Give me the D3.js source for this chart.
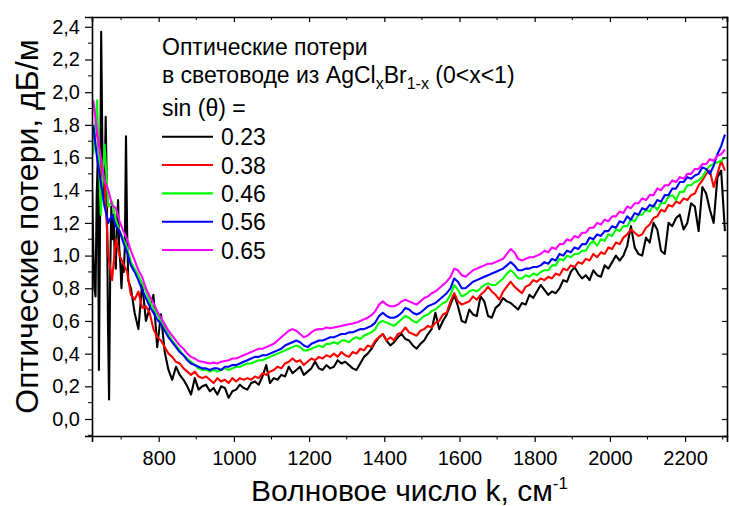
<!DOCTYPE html>
<html>
<head>
<meta charset="utf-8">
<script src="https://cdn.jsdelivr.net/npm/d3@7"></script>
<style>
  body { margin: 0; background: #fff; }
  svg { display: block; }
  text { font-family: "Liberation Sans", Arial, sans-serif; fill: #000; }
</style>
</head>
<body>
<svg id="chart" width="729" height="506"></svg>
<script>
// Wavenumber grid (cm^-1), 10 cm^-1 step
const wn = d3.range(626, 2310, 10);

// Optical loss, dB/m, for each sin(theta)
const loss065 = [
  1.95, 1.76, 1.60, 1.46, 1.40, 1.31, 1.29, 1.21, 1.15, 1.10,
  1.03, 0.97, 0.91, 0.87, 0.80, 0.75, 0.71, 0.66, 0.62, 0.58,
  0.54, 0.51, 0.48, 0.45, 0.43, 0.40, 0.38, 0.37, 0.355, 0.35,
  0.345, 0.34, 0.345, 0.34, 0.35, 0.355, 0.36, 0.37, 0.37, 0.38,
  0.39, 0.40, 0.41, 0.42, 0.43, 0.43, 0.44, 0.45, 0.46, 0.48,
  0.50, 0.52, 0.54, 0.55, 0.54, 0.52, 0.50, 0.51, 0.53, 0.545,
  0.55, 0.55, 0.56, 0.555, 0.56, 0.565, 0.57, 0.575, 0.58, 0.585,
  0.59, 0.60, 0.61, 0.62, 0.635, 0.66, 0.70, 0.72, 0.70, 0.69,
  0.69, 0.70, 0.72, 0.73, 0.72, 0.71, 0.70, 0.72, 0.74, 0.75,
  0.77, 0.78, 0.80, 0.82, 0.84, 0.87, 0.92, 0.91, 0.88, 0.87,
  0.89, 0.91, 0.92, 0.93, 0.94, 0.95, 0.95, 0.96, 0.97, 0.98,
  1.01, 1.04, 1.02, 0.98, 0.97, 0.98, 0.99, 0.99, 1.00, 1.01,
  1.03, 1.02, 1.05, 1.04, 1.07, 1.07, 1.10, 1.09, 1.12, 1.11,
  1.14, 1.14, 1.17, 1.17, 1.20, 1.19, 1.22, 1.21, 1.24, 1.24,
  1.27, 1.26, 1.30, 1.29, 1.32, 1.32, 1.35, 1.34, 1.37, 1.37,
  1.41, 1.40, 1.43, 1.43, 1.46, 1.45, 1.48, 1.47, 1.50, 1.50,
  1.53, 1.53, 1.56, 1.56, 1.59, 1.58, 1.61, 1.62, 1.65
];
const loss056 = [
  1.80, 1.60, 1.45, 1.30, 1.20, 1.25, 1.18, 1.15, 1.08, 1.02,
  0.94, 0.90, 0.85, 0.79, 0.74, 0.69, 0.65, 0.61, 0.58, 0.54,
  0.50, 0.47, 0.44, 0.41, 0.39, 0.36, 0.34, 0.33, 0.32, 0.31,
  0.31, 0.30, 0.31, 0.31, 0.30, 0.32, 0.32, 0.33, 0.33, 0.34,
  0.35, 0.36, 0.37, 0.38, 0.38, 0.39, 0.39, 0.40, 0.41, 0.42,
  0.43, 0.45, 0.46, 0.47, 0.48, 0.47, 0.45, 0.44, 0.46, 0.47,
  0.48, 0.48, 0.49, 0.50, 0.50, 0.51, 0.52, 0.52, 0.53, 0.53,
  0.54, 0.55, 0.55, 0.56, 0.57, 0.59, 0.63, 0.65, 0.63, 0.62,
  0.62, 0.63, 0.65, 0.68, 0.67, 0.65, 0.64, 0.65, 0.67, 0.69,
  0.70, 0.71, 0.73, 0.75, 0.77, 0.80, 0.86, 0.84, 0.80, 0.80,
  0.82, 0.84, 0.85, 0.86, 0.87, 0.88, 0.89, 0.90, 0.91, 0.92,
  0.94, 0.96, 0.94, 0.91, 0.91, 0.92, 0.92, 0.93, 0.93, 0.94,
  0.96, 0.95, 0.98, 0.97, 1.01, 1.00, 1.03, 1.02, 1.05, 1.04,
  1.07, 1.07, 1.11, 1.10, 1.13, 1.12, 1.15, 1.15, 1.18, 1.17,
  1.21, 1.20, 1.24, 1.22, 1.26, 1.25, 1.29, 1.28, 1.31, 1.30,
  1.34, 1.33, 1.37, 1.37, 1.41, 1.41, 1.45, 1.45, 1.48, 1.47,
  1.49, 1.50, 1.54, 1.53, 1.50, 1.55, 1.62, 1.67, 1.74
];
const loss046 = [
  1.62, 1.95, 1.25, 1.68, 1.30, 1.33, 1.22, 1.15, 1.10, 1.05,
  0.96, 0.92, 0.88, 0.83, 0.78, 0.72, 0.68, 0.64, 0.60, 0.56,
  0.52, 0.48, 0.45, 0.42, 0.39, 0.37, 0.35, 0.33, 0.31, 0.30,
  0.30, 0.29, 0.30, 0.29, 0.30, 0.31, 0.30, 0.31, 0.32, 0.32,
  0.33, 0.34, 0.34, 0.35, 0.36, 0.36, 0.37, 0.38, 0.39, 0.40,
  0.41, 0.42, 0.43, 0.44, 0.45, 0.44, 0.42, 0.42, 0.43, 0.44,
  0.45, 0.44, 0.46, 0.46, 0.47, 0.46, 0.48, 0.48, 0.47, 0.49,
  0.50, 0.49, 0.51, 0.52, 0.53, 0.55, 0.59, 0.60, 0.59, 0.58,
  0.57, 0.59, 0.61, 0.63, 0.62, 0.60, 0.59, 0.61, 0.63, 0.64,
  0.66, 0.67, 0.69, 0.71, 0.72, 0.76, 0.82, 0.79, 0.75, 0.76,
  0.78, 0.79, 0.78, 0.80, 0.82, 0.83, 0.82, 0.82, 0.84, 0.86,
  0.89, 0.91, 0.89, 0.86, 0.86, 0.88, 0.87, 0.89, 0.88, 0.90,
  0.91, 0.91, 0.94, 0.94, 0.98, 0.97, 1.00, 0.99, 1.01, 1.01,
  1.03, 1.03, 1.07, 1.09, 1.06, 1.10, 1.09, 1.13, 1.12, 1.16,
  1.15, 1.18, 1.18, 1.22, 1.21, 1.25, 1.25, 1.28, 1.27, 1.31,
  1.28, 1.32, 1.32, 1.36, 1.37, 1.34, 1.39, 1.39, 1.43, 1.43,
  1.45, 1.46, 1.48, 1.52, 1.55, 1.56, 1.57, 1.58, 1.60
];
const loss038 = [
  1.72, 1.75, 1.50, 1.45, 1.00, 0.85, 1.10, 1.00, 0.95, 0.90,
  0.76, 0.73, 0.78, 0.68, 0.69, 0.65, 0.55, 0.50, 0.48, 0.44,
  0.40, 0.38, 0.35, 0.34, 0.31, 0.29, 0.27, 0.29, 0.26, 0.25,
  0.26, 0.24, 0.22, 0.25, 0.23, 0.24, 0.22, 0.25, 0.23, 0.25,
  0.24, 0.25, 0.24, 0.26, 0.25, 0.28, 0.27, 0.29, 0.30, 0.32,
  0.31, 0.34, 0.35, 0.37, 0.35, 0.36, 0.33, 0.35, 0.37, 0.36,
  0.38, 0.37, 0.39, 0.38, 0.40, 0.38, 0.41, 0.39, 0.38, 0.41,
  0.40, 0.43, 0.42, 0.45, 0.44, 0.48, 0.50, 0.52, 0.48, 0.50,
  0.48, 0.52, 0.53, 0.56, 0.53, 0.52, 0.51, 0.54, 0.55, 0.57,
  0.56, 0.59, 0.60, 0.64, 0.65, 0.72, 0.77, 0.72, 0.70, 0.71,
  0.72, 0.75, 0.73, 0.76, 0.78, 0.81, 0.78, 0.76, 0.73, 0.78,
  0.81, 0.84, 0.81, 0.79, 0.77, 0.81, 0.82, 0.85, 0.84, 0.86,
  0.85, 0.87, 0.86, 0.89, 0.88, 0.92, 0.91, 0.94, 0.93, 0.96,
  0.95, 0.98, 0.97, 1.01, 0.99, 1.02, 1.01, 1.05, 1.04, 1.08,
  1.07, 1.11, 1.13, 1.16, 1.14, 1.12, 1.13, 1.17, 1.19, 1.23,
  1.24, 1.28, 1.27, 1.31, 1.30, 1.33, 1.32, 1.35, 1.34, 1.37,
  1.38, 1.43, 1.46, 1.50, 1.52, 1.42, 1.50, 1.58, 1.52
];
// sin(theta) = 0.23: finer 3 cm^-1 sampling below 720 cm^-1, then the 10 cm^-1 grid
const headWn = d3.range(623, 722, 3);
const loss023Head = [
  1.40, 1.05, 0.80, 0.75, 1.35, 1.60, 0.30, 1.20, 2.37, 1.70,
  1.35, 1.40, 1.85, 1.40, 0.60, 0.12, 0.90, 1.30, 1.10, 1.25,
  1.00, 0.92, 1.20, 1.34, 1.05, 0.95, 0.80, 0.95, 0.90, 1.05,
  1.73, 1.15, 0.85
];
const loss023 = [
  0.80, 0.65, 0.55, 0.83, 0.60, 0.68, 0.76, 0.44, 0.64, 0.41,
  0.30, 0.24, 0.32, 0.27, 0.24, 0.20, 0.15, 0.25, 0.18, 0.20,
  0.21, 0.17, 0.19, 0.15, 0.20, 0.19, 0.13, 0.17, 0.18, 0.21,
  0.19, 0.18, 0.22, 0.23, 0.21, 0.26, 0.33, 0.22, 0.25, 0.24,
  0.27, 0.26, 0.32, 0.28, 0.30, 0.32, 0.27, 0.29, 0.31, 0.35,
  0.31, 0.30, 0.33, 0.31, 0.32, 0.36, 0.34, 0.35, 0.33, 0.31,
  0.30, 0.34, 0.38, 0.40, 0.43, 0.47, 0.50, 0.52, 0.48, 0.45,
  0.47, 0.50, 0.52, 0.49, 0.48, 0.45, 0.43, 0.46, 0.48, 0.52,
  0.55, 0.65, 0.55, 0.60, 0.64, 0.70, 0.76, 0.69, 0.60, 0.59,
  0.67, 0.64, 0.63, 0.75, 0.72, 0.63, 0.62, 0.68, 0.70, 0.74,
  0.72, 0.71, 0.69, 0.67, 0.71, 0.70, 0.76, 0.74, 0.78, 0.82,
  0.79, 0.76, 0.78, 0.77, 0.80, 0.85, 0.84, 0.90, 0.93, 0.89,
  0.86, 0.88, 0.85, 0.91, 0.88, 0.87, 0.94, 0.92, 0.96, 1.00,
  0.97, 1.00, 1.06, 1.18, 1.05, 1.01, 1.00, 1.11, 1.08, 1.20,
  1.16, 1.03, 1.01, 1.20, 1.18, 1.23, 1.25, 1.16, 1.20, 1.32,
  1.30, 1.15, 1.42, 1.38, 1.28, 1.20, 1.48, 1.52, 1.15
];

const seriesLabels = ["0.23", "0.38", "0.46", "0.56", "0.65"];
const seriesColors = ["#000000", "#ff0000", "#00ff00", "#0000ff", "#ff00ff"];

const xMajor = [800, 1000, 1200, 1400, 1600, 1800, 2000, 2200];
const xMinor = [700, 900, 1100, 1300, 1500, 1700, 1900, 2100, 2300];
const yMajor = [0, 0.2, 0.4, 0.6, 0.8, 1.0, 1.2, 1.4, 1.6, 1.8, 2.0, 2.2, 2.4];
const yMinor = [-0.1, 0.1, 0.3, 0.5, 0.7, 0.9, 1.1, 1.3, 1.5, 1.7, 1.9, 2.1, 2.3];

const svg = d3.select("#chart");
const L = 92, R = 727, T = 17, B = 436;

const x = d3.scaleLinear().domain([622.6, 2311.5]).range([L, R]);
const y = d3.scaleLinear().domain([-0.104, 2.46]).range([B, T]);

const series = [
  { label: seriesLabels[0], color: seriesColors[0],
    pts: headWn.map((w, i) => [w, loss023Head[i]]).concat(wn.slice(10).map((w, i) => [w, loss023[i]])) },
  { label: seriesLabels[1], color: seriesColors[1], pts: wn.map((w, i) => [w, loss038[i]]) },
  { label: seriesLabels[2], color: seriesColors[2], pts: wn.map((w, i) => [w, loss046[i]]) },
  { label: seriesLabels[3], color: seriesColors[3], pts: wn.map((w, i) => [w, loss056[i]]) },
  { label: seriesLabels[4], color: seriesColors[4], pts: wn.map((w, i) => [w, loss065[i]]) }
];

svg.append("clipPath").attr("id", "plotClip")
  .append("rect").attr("x", L).attr("y", T).attr("width", R - L).attr("height", B - T);

const line = d3.line().x(d => x(d[0])).y(d => y(d[1]));
svg.append("g").attr("clip-path", "url(#plotClip)")
  .selectAll("path").data(series).join("path")
  .attr("d", d => line(d.pts))
  .attr("fill", "none")
  .attr("stroke", d => d.color)
  .attr("stroke-width", 2.1)
  .attr("stroke-linejoin", "round");

const fmt = d => d3.format(".1f")(d).replace(".", ",");
const tickFont = 20;

// bottom axis: labelled majors, short minors, all outward
const gx = svg.append("g").attr("transform", `translate(0,${B})`)
  .call(d3.axisBottom(x).tickValues(xMajor).tickSize(6).tickPadding(9).tickFormat(d3.format("d")));
gx.append("g").selectAll("line").data(xMinor).join("line")
  .attr("x1", d => x(d)).attr("x2", d => x(d)).attr("y1", 0).attr("y2", 3.5).attr("stroke", "#000");
// left axis
const gy = svg.append("g").attr("transform", `translate(${L},0)`)
  .call(d3.axisLeft(y).tickValues(yMajor).tickSize(7).tickPadding(5).tickFormat(fmt));
gy.append("g").selectAll("line").data(yMinor).join("line")
  .attr("y1", d => y(d)).attr("y2", d => y(d)).attr("x1", 0).attr("x2", -4).attr("stroke", "#000");
// top and right axes, inward ticks without labels
const gTop = svg.append("g").attr("transform", `translate(0,${T})`)
  .call(d3.axisBottom(x).tickValues(xMajor).tickSize(5).tickFormat(""));
gTop.append("g").selectAll("line").data(xMinor).join("line")
  .attr("x1", d => x(d)).attr("x2", d => x(d)).attr("y1", 0).attr("y2", 3).attr("stroke", "#000");
svg.append("g").attr("transform", `translate(${R},0)`)
  .call(d3.axisLeft(y).tickValues(yMajor).tickSize(5).tickFormat(""));

svg.selectAll(".domain").attr("stroke", "#000").attr("stroke-width", 1.6);
svg.selectAll(".tick line").attr("stroke", "#000").attr("stroke-width", 1.2);
svg.selectAll(".tick text").attr("font-size", tickFont).attr("font-family", "Liberation Sans, Arial, sans-serif").attr("fill", "#000");

// axis titles
svg.append("text")
  .attr("transform", `translate(38,${(T + B) / 2}) rotate(-90)`)
  .attr("text-anchor", "middle").attr("font-size", 32)
  .text("Оптические потери, дБ/м");

const xt = svg.append("text")
  .attr("x", (L + R) / 2).attr("y", 501)
  .attr("text-anchor", "middle").attr("font-size", 30);
xt.append("tspan").text("Волновое число k, см");
xt.append("tspan").attr("dy", -12).attr("font-size", 17).text("-1");

// legend
const lg = svg.append("g");
const lx = 162;
const legFont = 23;
lg.append("text").attr("x", lx).attr("y", 55).attr("font-size", legFont).text("Оптические потери");
const l2 = lg.append("text").attr("x", lx).attr("y", 83).attr("font-size", legFont);
l2.append("tspan").text("в световоде из AgCl");
l2.append("tspan").attr("dy", 6).attr("font-size", 16).text("x");
l2.append("tspan").attr("dy", -6).text("Br");
l2.append("tspan").attr("dy", 6).attr("font-size", 16).text("1-x");
l2.append("tspan").attr("dy", -6).text(" (0<x<1)");
lg.append("text").attr("x", lx).attr("y", 116).attr("font-size", legFont).text("sin (θ) =");

const rowY = d3.scaleLinear().domain([0, 4]).range([136.7, 250]);
const rows = lg.selectAll("g.row").data(series).join("g").attr("class", "row")
  .attr("transform", (d, i) => `translate(0,${rowY(i)})`);
rows.append("line").attr("x1", lx).attr("x2", 213).attr("y1", 0).attr("y2", 0)
  .attr("stroke", d => d.color).attr("stroke-width", 2.1);
rows.append("text").attr("x", 221).attr("y", 8.5).attr("font-size", legFont).text(d => d.label);
</script>
</body>
</html>
